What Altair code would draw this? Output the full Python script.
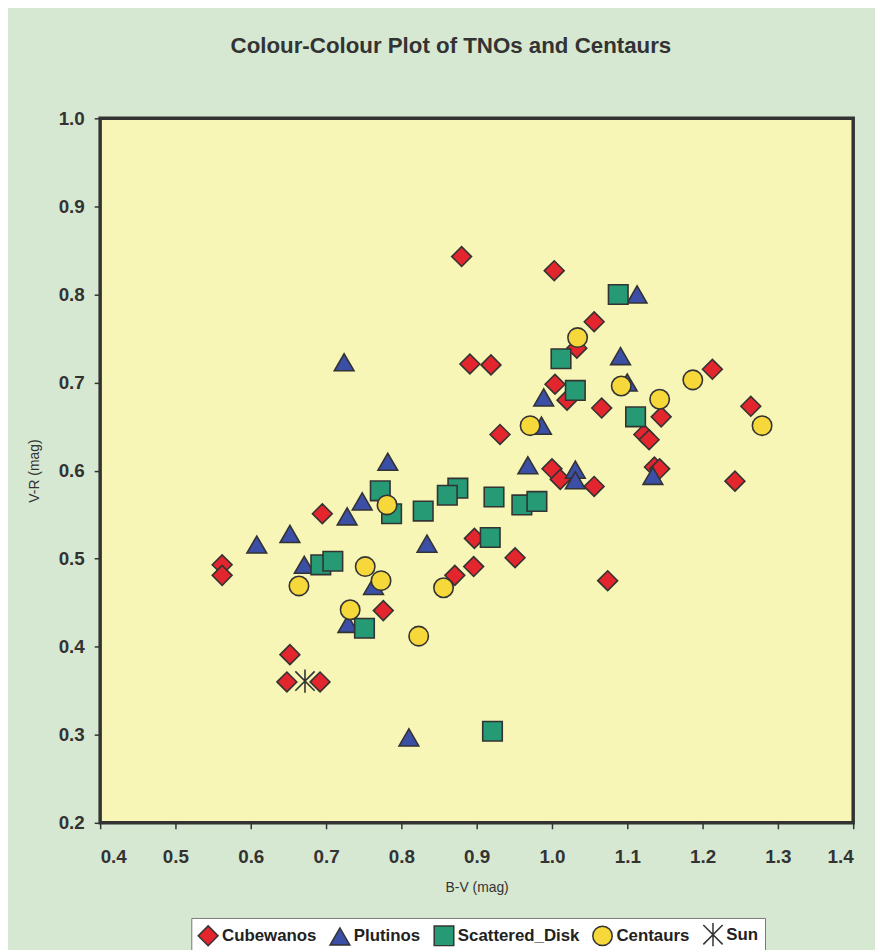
import altair as alt
import pandas as pd

groups = ["Cubewanos", "Plutinos", "Scattered_Disk", "Centaurs", "Sun"]
colors = ["#e3262d", "#3b4fa6", "#259a74", "#f7d83a", "#333333"]
shapes = ["diamond", "triangle-up", "square", "circle",
          "M-1,-1L1,1M1,-1L-1,1M0,-1.2L0,1.2"]
sizes = [400, 380, 290, 350, 230]

cube_bv = [0.562, 0.562, 0.695, 0.880, 1.003, 0.891, 0.919, 1.056, 1.033, 1.004,
           1.020, 1.066, 1.145, 1.122, 1.129, 0.931, 1.000, 1.011, 1.056, 1.136,
           1.143, 1.213, 1.264, 1.243, 0.897, 0.951, 0.896, 0.871, 1.074, 0.776,
           0.652, 0.648, 0.692]
cube_vr = [0.493, 0.481, 0.551, 0.843, 0.827, 0.721, 0.720, 0.769, 0.739, 0.698,
           0.680, 0.671, 0.661, 0.641, 0.635, 0.641, 0.602, 0.590, 0.582, 0.604,
           0.602, 0.715, 0.673, 0.588, 0.523, 0.501, 0.491, 0.481, 0.475, 0.441,
           0.391, 0.360, 0.360]

plut_bv = [1.113, 1.091, 0.989, 1.100, 0.986, 0.968, 1.031, 1.031, 1.134, 0.724,
           0.782, 0.748, 0.728, 0.652, 0.608, 0.834, 0.671, 0.763, 0.729, 0.810]
plut_vr = [0.800, 0.730, 0.683, 0.700, 0.651, 0.606, 0.601, 0.589, 0.594, 0.723,
           0.610, 0.565, 0.548, 0.528, 0.516, 0.517, 0.493, 0.469, 0.426, 0.297]

scat_bv = [1.088, 1.012, 1.031, 1.111, 0.875, 0.861, 0.923, 0.960, 0.980, 0.829,
           0.772, 0.787, 0.693, 0.709, 0.751, 0.918, 0.921]
scat_vr = [0.800, 0.727, 0.691, 0.661, 0.580, 0.572, 0.570, 0.561, 0.565, 0.554,
           0.577, 0.551, 0.493, 0.497, 0.421, 0.524, 0.304]

cent_bv = [1.034, 1.092, 1.143, 0.971, 1.187, 1.279, 0.781, 0.664, 0.752, 0.773,
           0.732, 0.823, 0.856]
cent_vr = [0.751, 0.696, 0.681, 0.651, 0.703, 0.651, 0.561, 0.469, 0.491, 0.475,
           0.442, 0.412, 0.467]

sun_bv = [0.672]
sun_vr = [0.361]

x_ticks = [0.4, 0.5, 0.6, 0.7, 0.8, 0.9, 1.0, 1.1, 1.2, 1.3, 1.4]
y_ticks = [0.2, 0.3, 0.4, 0.5, 0.6, 0.7, 0.8, 0.9, 1.0]

rows = []
for g, bvs, vrs in [("Cubewanos", cube_bv, cube_vr), ("Plutinos", plut_bv, plut_vr),
                    ("Scattered_Disk", scat_bv, scat_vr), ("Centaurs", cent_bv, cent_vr),
                    ("Sun", sun_bv, sun_vr)]:
    for a, b in zip(bvs, vrs):
        rows.append({"group": g, "bv": a, "vr": b})
df = pd.DataFrame(rows)
df["order"] = range(len(df))

FONT = "Liberation Sans"

legend = alt.Legend(
    title=None, orient="none", legendX=92, legendY=807, direction="horizontal",
    fillColor="white", strokeColor="#777777", padding=6,
    labelFont=FONT, labelFontSize=17, labelFontWeight="bold", labelColor="#222222",
    symbolSize=120, columnPadding=10, labelOffset=3,
    symbolStrokeColor="#333333", symbolStrokeWidth=1.5,
)

chart = alt.Chart(df).mark_point(
    filled=True, stroke="#333333", strokeWidth=1.6, opacity=1
).encode(
    x=alt.X("bv:Q", scale=alt.Scale(domain=[0.4, 1.4], nice=False, zero=False),
            axis=alt.Axis(title="B-V (mag)", values=x_ticks, format=".1f")),
    y=alt.Y("vr:Q", scale=alt.Scale(domain=[0.2, 1.0], nice=False, zero=False),
            axis=alt.Axis(title="V-R (mag)", values=y_ticks, format=".1f")),
    color=alt.Color("group:N", scale=alt.Scale(domain=groups, range=colors), legend=legend),
    shape=alt.Shape("group:N", scale=alt.Scale(domain=groups, range=shapes), legend=legend),
    size=alt.Size("group:N", scale=alt.Scale(domain=groups, range=sizes), legend=None),
    order=alt.Order("order:Q"),
).properties(
    width=760, height=711,
    autosize=alt.AutoSizeParams(type="none"),
    padding={"left": 93, "top": 107, "right": 22, "bottom": 124},
    background="#d6e8d2",
    title=alt.TitleParams(
        "Colour-Colour Plot of TNOs and Centaurs", font=FONT, fontSize=22.5,
        fontWeight="bold", color="#333333", anchor="middle", dx=-26, offset=29,
        baseline="bottom"),
).configure_view(
    stroke="#333333", strokeWidth=3.5, fill="#f7f6b7"
).configure_axis(
    labelFont=FONT, labelFontSize=19, labelFontWeight="bold", labelColor="#333333",
    titleFont=FONT, titleFontSize=14, titleFontWeight="normal", titleColor="#333333",
    tickColor="#333333", tickSize=6, tickWidth=1.5, domain=False, grid=False,
).configure_axisX(
    labelPadding=19, titlePadding=14
).configure_axisY(
    labelPadding=10, titlePadding=17
)

chart.save("out.html", embed_options={"renderer": "svg", "actions": False})
